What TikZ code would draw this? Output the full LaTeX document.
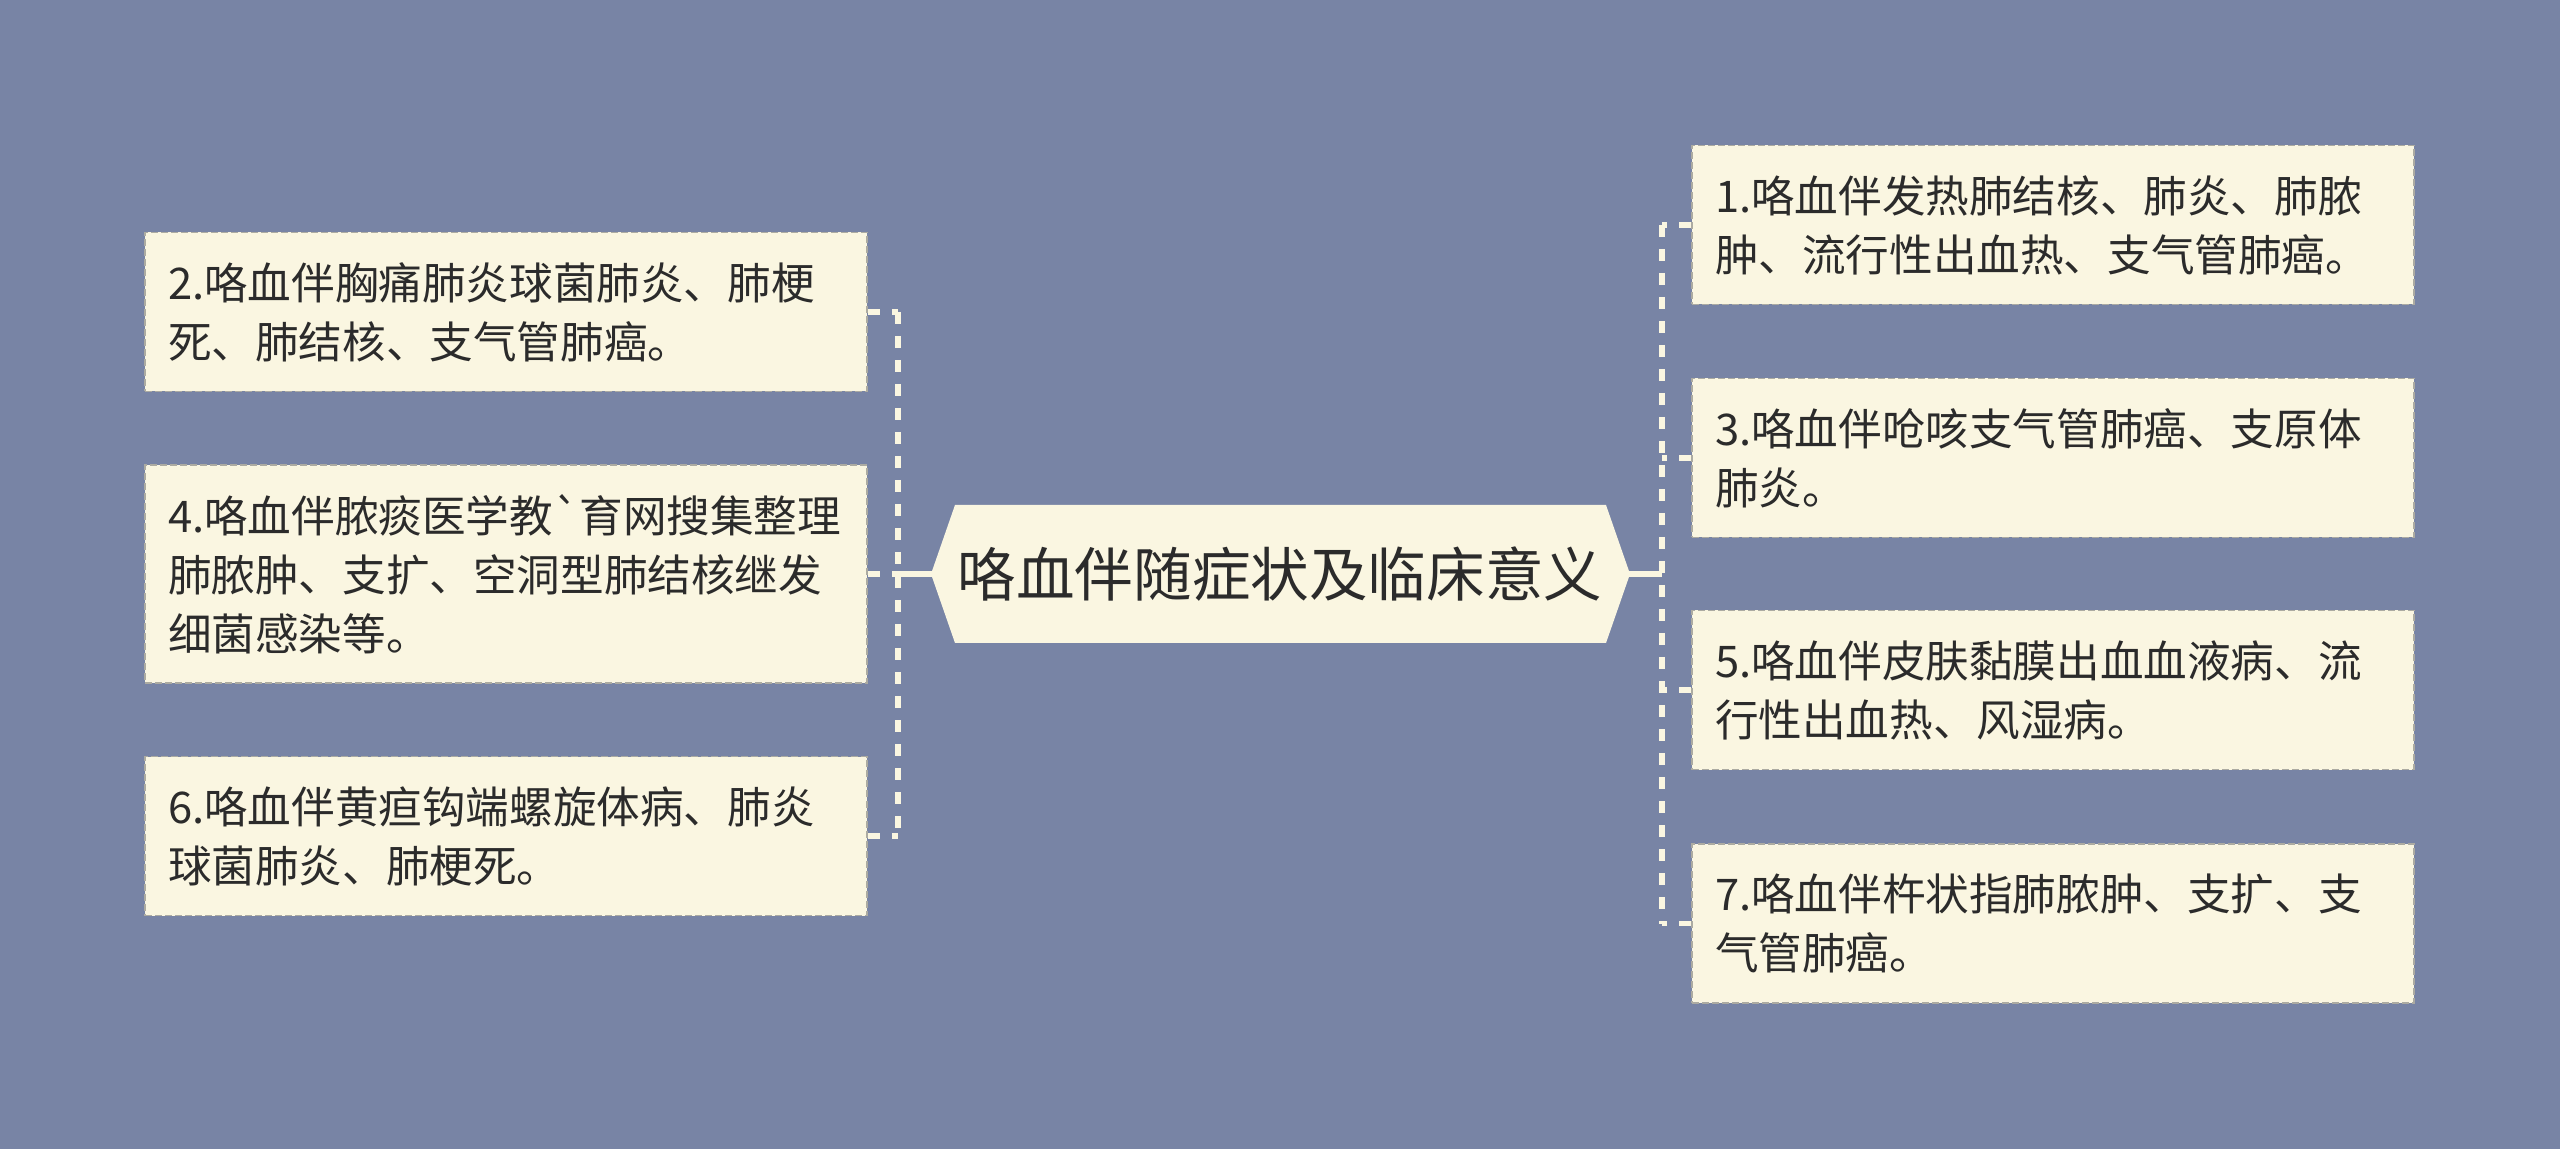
\documentclass[tikz,border=0pt]{standalone}
\usepackage{fontspec}
\newfontfamily\cjk{Noto Sans CJK SC}[Ligatures=TeXOff]
\usetikzlibrary{calc,positioning}

\definecolor{bgcol}{HTML}{7884A5}
\definecolor{leaffill}{HTML}{FAF6E1}
\definecolor{leafline}{HTML}{ACABA2}
\definecolor{textcol}{HTML}{2B2B2B}

\begin{document}
\begin{tikzpicture}[x=0.5pt,y=-0.5pt,
  leaf/.style={draw=leafline, fill=leaffill, text=textcol, line width=0.8pt,
    dash pattern=on 3.5pt off 1.5pt, align=left, text width=338pt,
    inner xsep=11.5pt, inner ysep=0pt, minimum height=79.5pt,
    font=\cjk\fontsize{21.8}{29.5}\selectfont},
  link/.style={draw=leaffill, line width=2.6pt},
  busline/.style={link, dash pattern=on 6pt off 6pt}]
\fill [bgcol] (0,0) rectangle (2560,1149);

% centre hexagon
\fill [leaffill] (931,574) -- (955,505) -- (1606,505) -- (1630,574)
  -- (1606,643) -- (955,643) -- cycle;
\node (root) at (1280,574) [text=textcol, font=\cjk\fontsize{29.3}{34}\selectfont]
  {咯血伴随症状及临床意义};
\coordinate (lbus) at (898,574);
\coordinate (rbus) at (1662,574);

% left side
\node (b2) at (506,312) [leaf] {2.咯血伴胸痛肺炎球菌肺炎、肺梗\\死、肺结核、支气管肺癌。};
\node (b4) at (506,574) [leaf, minimum height=109pt]
  {4.咯血伴脓痰医学教\symbol{"60}育网搜集整理\\肺脓肿、支扩、空洞型肺结核继发\\细菌感染等。};
\node (b6) at (506,836) [leaf] {6.咯血伴黄疸钩端螺旋体病、肺炎\\球菌肺炎、肺梗死。};

% right side
\node (b1) at (2053,225) [leaf] {1.咯血伴发热肺结核、肺炎、肺脓\\肿、流行性出血热、支气管肺癌。};
\node (b3) at (2053,458) [leaf] {3.咯血伴呛咳支气管肺癌、支原体\\肺炎。};
\node (b5) at (2053,690) [leaf] {5.咯血伴皮肤黏膜出血血液病、流\\行性出血热、风湿病。};
\node (b7) at (2053,923.5) [leaf] {7.咯血伴杵状指肺脓肿、支扩、支\\气管肺癌。};

\draw [link] (root.west) -- (lbus);
\draw [link] (root.east) -- (rbus);
\draw [busline] (lbus |- b2.east) -- (lbus |- b6.east);
\draw [busline] (rbus |- b1.west) -- (rbus |- b7.west);
\foreach \b in {b2,b4,b6}
  \draw [busline] (\b.east) -- (lbus |- \b.east);
\foreach \b in {b1,b3,b5,b7}
  \draw [busline] (\b.west) -- (rbus |- \b.west);
\end{tikzpicture}
\end{document}
